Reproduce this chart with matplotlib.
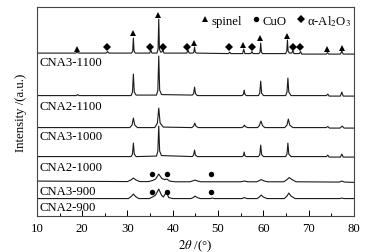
import matplotlib
matplotlib.use("Agg")
import matplotlib.pyplot as plt
from matplotlib.lines import Line2D
from matplotlib.ticker import MultipleLocator

plt.rcParams['font.family'] = ['Liberation Serif', 'DejaVu Sans']
plt.rcParams['mathtext.fontset'] = 'stix'

# ---- data: (2theta, intensity) vertices, stacked with offsets ----
samples = ['CNA3-1100', 'CNA2-1100', 'CNA3-1000', 'CNA2-1000', 'CNA3-900', 'CNA2-900']
offsets = [162, 120, 88, 59, 34, 17]

cna3_1100 = [(10, 1), (18.6, 1), (18.9, 2), (19.2, 1), (25.3, 1), (25.6, 2.5), (25.9, 1),
             (30.9, 1), (31.15, 3), (31.3, 16), (31.45, 3), (31.7, 1), (34.9, 1), (35.15, 4), (35.4, 1),
             (36.5, 1), (36.75, 5), (36.9, 35), (37.05, 5), (37.3, 2), (37.55, 2), (37.8, 4), (38.05, 1),
             (43.1, 1), (43.35, 4), (43.6, 1), (44.45, 1), (44.65, 2), (44.8, 7), (44.95, 2), (45.2, 1),
             (52.3, 0.5), (52.55, 2), (52.8, 0.5), (55.4, 0.5), (55.65, 5), (55.9, 0.5),
             (57.2, 0.5), (57.45, 2.5), (57.7, 0.5), (59.0, 0.5), (59.25, 2), (59.4, 11), (59.55, 2), (59.8, 0.5),
             (64.9, 0.5), (65.15, 3), (65.3, 14), (65.45, 3), (65.7, 1), (66.25, 1), (66.5, 3.5), (66.75, 0.5),
             (67.95, 0.5), (68.2, 2.5), (68.45, 0), (73.9, 0), (74.15, 1.5), (74.4, 0),
             (77.0, 0), (77.3, 3), (77.6, 0), (80, 0)]
cna2_1100 = [(10, 0.5), (18.7, 0.5), (19.0, 1.5), (19.3, 0.5), (30.8, 0.5), (31.1, 4), (31.3, 22), (31.5, 4),
             (31.9, 1), (36.4, 1), (36.7, 6), (36.9, 40), (37.1, 6), (37.5, 1.5), (44.3, 1), (44.6, 2.5),
             (44.8, 9), (45.0, 2.5), (45.4, 0.5), (55.3, 0.5), (55.6, 2), (55.75, 6), (55.9, 2), (56.2, 0.5),
             (58.9, 0.5), (59.2, 3), (59.4, 15), (59.6, 3), (60.0, 0.5), (64.9, 0.5), (65.2, 4), (65.4, 18),
             (65.6, 4), (66.1, 0.5), (73.9, 0.5), (74.2, 2), (74.5, 0), (77.0, 0), (77.3, 4), (77.6, 0), (80, 0)]
cna3_1000 = [(10, 0.5), (30.5, 0.5), (31.0, 3), (31.3, 10), (31.6, 3), (32.2, 0.5), (36.0, 0.5), (36.6, 5),
             (36.9, 20), (37.2, 5), (37.9, 1), (44.2, 0.5), (44.6, 2), (44.85, 5), (45.1, 2), (45.6, 0.5),
             (55.2, 0.5), (55.6, 1.5), (55.8, 3), (56.0, 1.5), (56.5, 0.5), (58.7, 0.5), (59.1, 2.5),
             (59.45, 7), (59.8, 2.5), (60.3, 0.5), (64.7, 0.5), (65.2, 3), (65.5, 9), (65.8, 3), (66.5, 0.5),
             (73.8, 0.5), (74.2, 1.5), (74.6, 0), (76.9, 0), (77.4, 2), (77.8, 0), (80, 0)]
cna2_1000 = [(10, 0.5), (30.8, 0.5), (31.1, 3), (31.3, 14), (31.5, 3), (31.9, 0.5), (36.4, 1), (36.7, 6),
             (36.9, 31), (37.1, 6), (37.5, 1.5), (44.3, 0.5), (44.6, 2), (44.8, 7), (45.0, 2), (45.4, 0.5),
             (55.3, 0.5), (55.6, 1.5), (55.75, 5), (55.9, 1.5), (56.2, 0.5), (58.9, 0.5), (59.2, 2.5),
             (59.4, 12), (59.6, 2.5), (60.0, 0.5), (64.9, 0.5), (65.2, 3), (65.4, 14), (65.6, 3), (66.1, 0.5),
             (73.9, 0.5), (74.2, 2), (74.5, 0), (77.0, 0), (77.3, 3), (77.6, 0), (80, 0)]
cna3_900 = [(10, 1), (30.0, 0.5), (30.7, 2), (31.3, 4), (31.9, 2), (32.7, 0.5), (34.6, 0.5), (35.5, 1.5),
            (36.2, 3), (36.9, 8), (37.6, 3.5), (38.2, 2.5), (38.7, 3), (39.3, 1), (40.5, 0.3), (43.8, 0.3),
            (44.4, 1.2), (44.9, 2), (45.5, 1), (46.2, 0.3), (55.0, 0.3), (55.8, 1), (56.6, 0.3), (58.5, 0.3),
            (59.1, 1.5), (59.5, 2.5), (60.1, 1.2), (60.9, 0.3), (64.5, 0.3), (65.2, 2.5), (65.7, 4.5),
            (66.3, 2.5), (67.2, 0.3), (76.7, 0), (77.3, 1), (77.9, 0), (80, -0.3)]
cna2_900 = [(10, 0.5), (30.2, 0.5), (30.8, 2.5), (31.3, 5), (31.8, 2.5), (32.5, 0.5), (34.8, 0.5), (35.5, 2),
            (36.2, 4), (36.9, 10), (37.5, 4), (37.9, 2), (38.6, 7), (39.1, 1.5), (40.0, 0.5), (44.0, 0.5),
            (44.5, 1.5), (44.9, 3), (45.4, 1.5), (46.1, 0.5), (48.2, 0.5), (48.7, 1), (49.2, 0.5), (55.2, 0.5),
            (55.8, 1.5), (56.4, 0.5), (58.6, 0.5), (59.1, 2), (59.5, 4), (60.0, 2), (60.8, 0.5), (64.6, 0.5),
            (65.2, 3), (65.6, 6), (66.1, 3), (67.0, 0.5), (76.8, 0.5), (77.3, 1), (77.8, 0.5), (80, 0.5)]
patterns = [cna3_1100, cna2_1100, cna3_1000, cna2_1000, cna3_900, cna2_900]

# phase markers (2theta, y in plot units)
spinel_marks = [(18.9, 167), (31.2, 183), (36.8, 201), (44.6, 173), (55.5, 171), (59.3, 178),
                (65.1, 180), (74.1, 167), (77.3, 168)]
alumina_marks = [(25.4, 169), (35.0, 169), (37.9, 169), (43.1, 169), (52.4, 169), (57.5, 169),
                 (66.5, 169), (68.1, 169)]
cuo_marks = [(35.4, 42), (38.7, 42), (48.4, 42), (35.4, 24), (38.7, 24), (48.4, 24)]

label_y = [154, 110, 80, 49, 25, 9]

# ============================== PLOT ==============================
fig = plt.figure(figsize=(3.65, 2.53), dpi=100)
ax = fig.add_axes([0.101, 0.142, 0.869, 0.826])

for pts, off in zip(patterns, offsets):
    tt, ii = zip(*pts)
    ax.plot(tt, [v + off for v in ii], color='#1a1a1a', lw=0.8)

mk = dict(ls='none', color='k', ms=4.4, mew=0)
ax.plot(*zip(*spinel_marks), marker='^', **mk)
ax.plot(*zip(*alumina_marks), marker='D', **dict(mk, ms=3.7))
ax.plot(*zip(*cuo_marks), marker='o', **dict(mk, ms=3.9))

for name, y in zip(samples, label_y):
    ax.text(10.6, y, name, fontsize=9.2, va='center', ha='left')

handles = [Line2D([], [], marker='^', **mk),
           Line2D([], [], marker='o', **dict(mk, ms=3.9)),
           Line2D([], [], marker='D', **dict(mk, ms=3.7))]
ax.legend(handles, ['spinel', 'CuO', r'α-Al$_2$O$_3$'], loc='upper right', ncol=3, frameon=False,
          fontsize=9.2, handlelength=0.6, handletextpad=0.2, columnspacing=0.8,
          bbox_to_anchor=(1.0, 0.985), borderaxespad=0.0, borderpad=0.2)

ax.set_xlim(10, 80)
ax.set_ylim(0, 209)
ax.xaxis.set_major_locator(MultipleLocator(10))
ax.xaxis.set_minor_locator(MultipleLocator(5))
ax.tick_params(axis='x', which='major', direction='in', length=4, width=0.7, labelsize=9.2, pad=4)
ax.tick_params(axis='x', which='minor', direction='in', length=2, width=0.7)
ax.set_yticks([])
for s in ax.spines.values():
    s.set_linewidth(0.8)
    s.set_color('#444444')

ax.set_xlabel(r'$2\theta$ /(°)', fontsize=9.2, labelpad=3)
ax.set_ylabel('Intensity /(a.u.)', fontsize=9.2, labelpad=7)

fig.savefig('out.png', dpi=100)
